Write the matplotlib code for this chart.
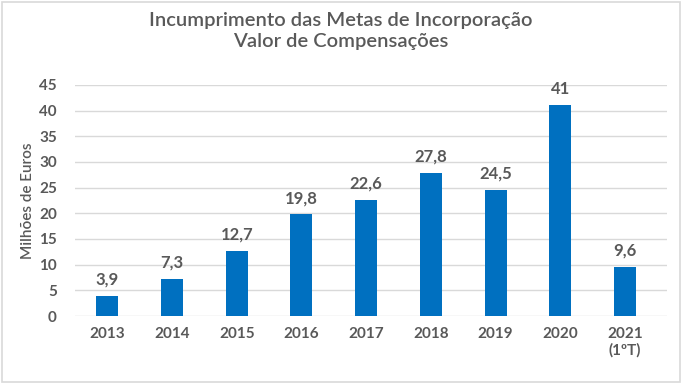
import matplotlib.pyplot as plt
from matplotlib.patches import Rectangle

years = ["2013", "2014", "2015", "2016", "2017", "2018", "2019", "2020", "2021\n(1ºT)"]
values = [3.9, 7.3, 12.7, 19.8, 22.6, 27.8, 24.5, 41, 9.6]
value_labels = ["3,9", "7,3", "12,7", "19,8", "22,6", "27,8", "24,5", "41", "9,6"]
y_ticks = list(range(0, 50, 5))

grey = "#595959"
blue = "#0070C0"

plt.rcParams['font.family'] = ['Lato', 'DejaVu Sans']

fig = plt.figure(figsize=(6.82, 3.84), dpi=100)
ax = fig.add_axes([0.11, 0.177, 0.868, 0.602])

x = range(len(years))
ax.bar(x, values, width=0.34, color=blue, zorder=3)
for xi, v, lab in zip(x, values, value_labels):
    ax.text(xi, v + 1.6, lab, ha='center', va='bottom', fontsize=12,
            fontweight='bold', color=grey)

ax.set_xlim(-0.5, 8.65)
ax.set_ylim(0, 45)
ax.set_yticks(y_ticks)
ax.set_xticks(list(x))
ax.set_xticklabels(years)
ax.yaxis.grid(True, color='#D9D9D9', linewidth=1, zorder=0)
for s in ax.spines.values():
    s.set_visible(False)
ax.tick_params(length=0, labelsize=11, colors=grey)
ax.tick_params(axis='y', pad=13)
ax.tick_params(axis='x', pad=8)
for lbl in ax.get_xticklabels() + ax.get_yticklabels():
    lbl.set_fontweight('bold')
ax.set_ylabel("Milhões de Euros", fontsize=11, color=grey, fontweight='semibold',
              labelpad=3)

fig.text(0.5, 0.97, "Incumprimento das Metas de Incorporação\nValor de Compensações",
         ha='center', va='top', fontsize=14.5, color=grey, linespacing=1.3,
         fontweight='semibold')

fig.patches.append(Rectangle((0.003, 0.005), 0.994, 0.99, transform=fig.transFigure,
                             fill=False, edgecolor='#D9D9D9', linewidth=1.2))

fig.savefig("out.png", dpi=100)
